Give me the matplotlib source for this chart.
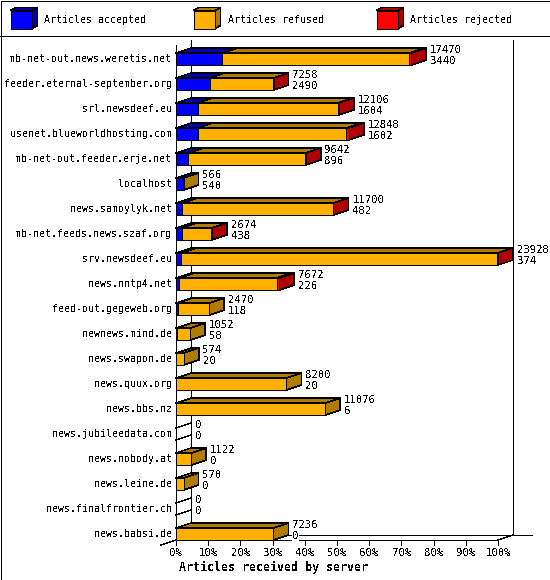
import matplotlib
matplotlib.use("Agg")
import matplotlib.pyplot as plt
from matplotlib.patches import Polygon, Rectangle
from matplotlib.lines import Line2D
from matplotlib.transforms import IdentityTransform

servers = ["mb-net-out.news.weretis.net", "feeder.eternal-september.org", "srl.newsdeef.eu",
           "usenet.blueworldhosting.com", "mb-net-out.feeder.erje.net", "localhost",
           "news.samoylyk.net", "mb-net.feeds.news.szaf.org", "srv.newsdeef.eu", "news.nntp4.net",
           "feed-out.gegeweb.org", "newnews.mind.de", "news.swapon.de", "news.quux.org",
           "news.bbs.nz", "news.jubileedata.com", "news.nobody.at", "news.leine.de",
           "news.finalfrontier.ch", "news.babsi.de"]
total_labels = [17470, 7258, 12106, 12848, 9642, 566, 11700, 2674, 23928, 7672,
                2470, 1052, 574, 8200, 11076, 0, 1122, 570, 0, 7236]
accepted = [3440, 2490, 1604, 1602, 896, 540, 482, 438, 374, 226,
            118, 58, 20, 20, 6, 0, 0, 0, 0, 0]
refused = [13880, 4748, 10432, 11056, 8716, 26, 11198, 2226, 23494, 7256,
           2352, 994, 554, 8180, 11070, 0, 1122, 570, 0, 7236]
rejected = [150, 20, 70, 190, 30, 0, 20, 10, 60, 190,
            0, 0, 0, 0, 0, 0, 0, 0, 0, 0]
pct_ticks = [0, 10, 20, 30, 40, 50, 60, 70, 80, 90, 100]
series_names = ["Articles accepted", "Articles refused", "Articles rejected"]
front_colors = ["#0000ff", "#ffb000", "#ff0000"]
dark_colors = ["#0000b0", "#b07c00", "#b00000"]
x_title = "Articles received by server"

W, H = 550, 580
DX, DY = 15, 5
MONO = "DejaVu Sans Mono"
FS = 7.2
FS_NUM = 7.7
LW = 0.45

fig = plt.figure(figsize=(W / 100, H / 100), dpi=100, facecolor="white")
left, right, top, bottom = 176.0, 498.0, 45.0, 540.0
ax = fig.add_axes([left / W, 1 - bottom / H, (right - left) / W, (bottom - top) / H])
ax.axis("off")
full = max(total_labels)
ax.set_xlim(0, full)
row0, step = 59.0, 25.0
ax.set_ylim((bottom - row0) / step, (top - row0) / step)
HALF = 6.0 / step
ident = IdentityTransform()


def line(xs, ys, z=1):
    fig.add_artist(Line2D(xs, [H - y for y in ys], color="black", lw=LW, antialiased=False,
                          transform=ident, zorder=z))


def poly(pts, color, z):
    fig.add_artist(Polygon(pts, closed=True, facecolor=color, edgecolor="black", lw=LW,
                           antialiased=False, transform=ident, zorder=z))


def px_text(x, y, s, ha="left", bold=False, fs=FS, z=20, bg=False):
    t = fig.text(x / W, 1 - y / H, s, ha=ha, va="center", family=MONO, fontsize=fs,
                 fontweight="bold" if bold else "normal", zorder=z, antialiased=False)
    if bg:
        t.set_bbox(dict(facecolor="white", edgecolor="none", pad=0.5))
    return t


def d2p(x, y):
    return tuple(ax.transData.transform((x, y)))


def box(x0, x1, y0, y1, front, dark, side, z, dx=DX, dy=DY):
    # x0,x1 display; y0 = lower, y1 = upper display coordinates
    poly([(x0, y1), (x1, y1), (x1 + dx, y1 + dy), (x0 + dx, y1 + dy)], dark, z)
    if side:
        poly([(x1, y0), (x1 + dx, y0 + dy), (x1 + dx, y1 + dy), (x1, y1)], dark, z)
    poly([(x0, y0), (x1, y0), (x1, y1), (x0, y1)], front, z + 0.1)


# outer frame and legend separator
fig.add_artist(Rectangle((0.5, 0.5), W - 1, H - 1, fill=False, edgecolor="black", lw=0.72,
                         antialiased=False, transform=ident, zorder=0.5))
line([0, W], [35.5, 35.5])

# legend
for name, fc, dc, x in zip(series_names, front_colors, dark_colors, [10.5, 193.5, 376.5]):
    box(x, x + 21.5, H - 28.5, H - 10.5, fc, dc, True, 3, dx=5.5, dy=3)
    px_text(x + 34, 20, name)

# walls and axes
xb = left + DX
xr = right + DX
line([left, left], [45, 540], 1)
line([xb, xb], [40, 535], 1)
line([xr, xr], [40, 535], 1)
line([xb, 532], [535, 535], 1)
line([left, right], [540, 540], 1)
line([left - DX, left], [545, 540], 1)
line([right, xr], [540, 535], 1)
for p in pct_ticks:
    tx, _ = d2p(full * p / 100, 0)
    line([tx, tx], [540, 545], 1)
    px_text(tx, 552.5, f"{p}%", ha="center", fs=FS_NUM)
px_text(273.5, 567, x_title, ha="center", bold=True, fs=8.4)

# bars
for i, name in enumerate(servers):
    _, y0 = d2p(0, i + HALF)
    _, y1 = d2p(0, i - HALF)
    px_text(172, row0 + step * i, name, ha="right")
    z = 5 + i
    x_total = 0
    vals = [accepted[i], refused[i], rejected[i]]
    if sum(vals) == 0:
        x0, _ = d2p(0, i)
        line([x0, x0 + DX], [H - y1, H - y1 - DY], z)
        line([x0, x0 + DX], [H - y0, H - y0 - DY], z)
    else:
        last = max(j for j, v in enumerate(vals) if v > 0)
        for j, v in enumerate(vals):
            if v == 0:
                continue
            xa, _ = d2p(x_total, i)
            xz, _ = d2p(x_total + v, i)
            box(xa, xz, y0, y1, front_colors[j], dark_colors[j], j == last, z + j * 0.2)
            x_total += v
    xe, _ = d2p(total_labels[i], i)
    px_text(xe + DX + 4, row0 + step * i - 9, str(total_labels[i]), fs=FS_NUM)
    px_text(xe + DX + 4, row0 + step * i + 2, str(accepted[i]), fs=FS_NUM,
            bg=(i == len(servers) - 1))

fig.savefig("out.png", dpi=100, facecolor="white")
